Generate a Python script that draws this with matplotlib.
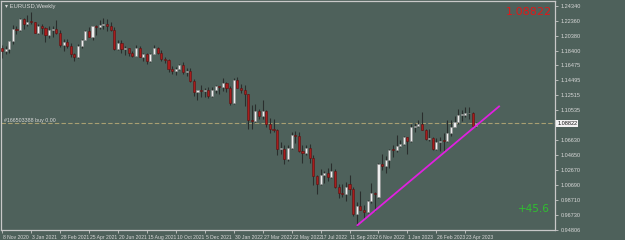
import numpy as np
import pandas as pd
import matplotlib
matplotlib.use("Agg")
import matplotlib.pyplot as plt

# Weekly EURUSD candles, first bar = week of 8 Nov 2020
start_week = "2020-11-08"
opens = [1.1876, 1.1834, 1.1856, 1.1962, 1.2122, 1.2114, 1.2256, 1.2185, 1.2225, 1.2218,
         1.2078, 1.2170, 1.2136, 1.2045, 1.2118, 1.2120, 1.2075, 1.1915, 1.1952, 1.1905,
         1.1795, 1.1763, 1.1900, 1.1982, 1.2097, 1.2020, 1.2165, 1.2145, 1.2180, 1.2190,
         1.2167, 1.2107, 1.1864, 1.1935, 1.1865, 1.1875, 1.1805, 1.1771, 1.1870, 1.1763,
         1.1795, 1.1698, 1.1795, 1.1880, 1.1815, 1.1725, 1.1718, 1.1595, 1.1573, 1.1600,
         1.1645, 1.1558, 1.1568, 1.1445, 1.1290, 1.1317, 1.1315, 1.1317, 1.1240, 1.1318,
         1.1370, 1.1359, 1.1411, 1.1344, 1.1146, 1.1455, 1.1350, 1.1320, 1.1270, 1.0930,
         1.0910, 1.1050, 1.0985, 1.1050, 1.0875, 1.0810, 1.0795, 1.0545, 1.0550, 1.0410,
         1.0565, 1.0735, 1.0720, 1.0520, 1.0495, 1.0555, 1.0425, 1.0185, 1.0085, 1.0210,
         1.0225, 1.0180, 1.0260, 1.0040, 0.9965, 0.9955, 1.0090, 1.0015, 0.9690, 0.9800,
         0.9740, 0.9720, 0.9860, 0.9965, 0.9920, 1.0355, 1.0325, 1.0400, 1.0535, 1.0530,
         1.0585, 1.0615, 1.0700, 1.0645, 1.0830, 1.0855, 1.0870, 1.0795, 1.0680, 1.0695,
         1.0545, 1.0635, 1.0665, 1.0655, 1.0760, 1.0840, 1.0900, 1.0990, 1.0995, 1.1015,
         1.1020, 1.0850]
highs = [1.1920, 1.1905, 1.1965, 1.2177, 1.2167, 1.2273, 1.2272, 1.2310, 1.2349, 1.2223,
         1.2190, 1.2185, 1.2150, 1.2169, 1.2169, 1.2243, 1.2113, 1.1990, 1.1990, 1.1945,
         1.1815, 1.1928, 1.1995, 1.2117, 1.2150, 1.2170, 1.2181, 1.2245, 1.2265, 1.2254,
         1.2218, 1.2150, 1.1975, 1.1975, 1.1895, 1.1880, 1.1830, 1.1909, 1.1900, 1.1805,
         1.1805, 1.1810, 1.1909, 1.1885, 1.1850, 1.1751, 1.1725, 1.1640, 1.1625, 1.1670,
         1.1692, 1.1616, 1.1610, 1.1465, 1.1320, 1.1383, 1.1355, 1.1360, 1.1360, 1.1386,
         1.1370, 1.1482, 1.1430, 1.1370, 1.1484, 1.1495, 1.1395, 1.1390, 1.1275, 1.1121,
         1.1137, 1.1070, 1.1185, 1.1055, 1.0950, 1.0935, 1.0815, 1.0640, 1.0595, 1.0600,
         1.0765, 1.0787, 1.0775, 1.0600, 1.0605, 1.0615, 1.0465, 1.0200, 1.0278, 1.0255,
         1.0295, 1.0368, 1.0280, 1.0090, 1.0080, 1.0110, 1.0198, 1.0050, 0.9855, 0.9999,
         0.9810, 0.9875, 1.0095, 0.9975, 1.0365, 1.0480, 1.0450, 1.0545, 1.0595, 1.0735,
         1.0660, 1.0715, 1.0710, 1.0875, 1.0885, 1.0930, 1.1035, 1.0805, 1.0805, 1.0705,
         1.0690, 1.0700, 1.0760, 1.0930, 1.0925, 1.0975, 1.1075, 1.1065, 1.1095, 1.1095,
         1.1030, 1.0905]
lows = [1.1745, 1.1800, 1.1810, 1.1925, 1.2059, 1.2104, 1.2130, 1.2165, 1.2195, 1.2075,
        1.2054, 1.2060, 1.1952, 1.2012, 1.2023, 1.2065, 1.1894, 1.1835, 1.1873, 1.1762,
        1.1704, 1.1740, 1.1870, 1.1980, 1.2017, 1.1986, 1.2052, 1.2130, 1.2130, 1.2104,
        1.2093, 1.1847, 1.1849, 1.1807, 1.1780, 1.1772, 1.1752, 1.1770, 1.1760, 1.1705,
        1.1665, 1.1690, 1.1790, 1.1800, 1.1700, 1.1680, 1.1565, 1.1530, 1.1525, 1.1585,
        1.1535, 1.1513, 1.1432, 1.1250, 1.1186, 1.1235, 1.1226, 1.1222, 1.1235, 1.1277,
        1.1272, 1.1315, 1.1300, 1.1121, 1.1140, 1.1375, 1.1280, 1.1106, 1.0805, 1.0806,
        1.0900, 1.0945, 1.0946, 1.0837, 1.0757, 1.0770, 1.0471, 1.0485, 1.0350, 1.0390,
        1.0550, 1.0630, 1.0505, 1.0360, 1.0470, 1.0365, 1.0070, 0.9952, 1.0075, 1.0095,
        1.0123, 1.0160, 1.0030, 0.9900, 0.9910, 0.9865, 0.9945, 0.9665, 0.9536, 0.9740,
        0.9630, 0.9705, 0.9830, 0.9730, 0.9895, 1.0270, 1.0225, 1.0290, 1.0440, 1.0510,
        1.0575, 1.0600, 1.0482, 1.0640, 1.0765, 1.0835, 1.0795, 1.0670, 1.0655, 1.0535,
        1.0533, 1.0525, 1.0515, 1.0640, 1.0715, 1.0835, 1.0875, 1.0910, 1.0965, 1.0940,
        1.0840, 1.0835]
closes = [1.1834, 1.1856, 1.1962, 1.2122, 1.2114, 1.2256, 1.2185, 1.2215, 1.2218, 1.2078,
          1.2170, 1.2136, 1.2045, 1.2118, 1.2120, 1.2075, 1.1915, 1.1952, 1.1905, 1.1795,
          1.1763, 1.1900, 1.1982, 1.2097, 1.2020, 1.2165, 1.2145, 1.2180, 1.2190, 1.2167,
          1.2107, 1.1864, 1.1935, 1.1865, 1.1875, 1.1805, 1.1771, 1.1870, 1.1763, 1.1795,
          1.1698, 1.1795, 1.1880, 1.1815, 1.1725, 1.1718, 1.1595, 1.1573, 1.1600, 1.1645,
          1.1558, 1.1568, 1.1445, 1.1290, 1.1317, 1.1315, 1.1317, 1.1240, 1.1318, 1.1370,
          1.1359, 1.1411, 1.1344, 1.1146, 1.1455, 1.1350, 1.1320, 1.1270, 1.0930, 1.0910,
          1.1050, 1.0985, 1.1050, 1.0875, 1.0810, 1.0795, 1.0545, 1.0550, 1.0410, 1.0565,
          1.0735, 1.0720, 1.0520, 1.0495, 1.0555, 1.0425, 1.0185, 1.0085, 1.0210, 1.0225,
          1.0180, 1.0260, 1.0040, 0.9965, 0.9955, 1.0040, 1.0015, 0.9690, 0.9800, 0.9740,
          0.9720, 0.9860, 0.9965, 0.9960, 1.0355, 1.0325, 1.0400, 1.0535, 1.0530, 1.0585,
          1.0615, 1.0700, 1.0645, 1.0830, 1.0855, 1.0870, 1.0795, 1.0680, 1.0695, 1.0545,
          1.0635, 1.0640, 1.0655, 1.0760, 1.0840, 1.0900, 1.0990, 1.0995, 1.1015, 1.1020,
          1.0850, 1.0882]

price_labels = ["1.24340", "1.22360", "1.20380", "1.18400", "1.16475", "1.14495", "1.12515",
                "1.10535", "1.06630", "1.04650", "1.02670", "1.00690", "0.98710", "0.96730",
                "0.94806"]
current_price = 1.08822
order_text = "#166503388 buy 0.00"
profit_text = "+45.6"
# trend line anchors (bar index, price)
trend_x = [98, 137.5]
trend_y = [0.9536, 1.1114]

bg = "#4e615b"
fg = "#d8d8d8"
small_font = ["Liberation Sans Narrow", "Liberation Sans", "DejaVu Sans"]

weeks = pd.date_range(start_week, periods=len(opens), freq="7D")
o = np.array(opens); h = np.array(highs); l = np.array(lows); c = np.array(closes)
x = np.arange(len(o))

fig = plt.figure(figsize=(6.25, 2.4), dpi=100, facecolor=bg)
ax = fig.add_axes([1 / 625, 10 / 240, 554 / 625, 229 / 240])
ax.set_facecolor(bg)

ppx = (1.24340 - 0.94806) / 224.5
ax.set_ylim(0.94806, 1.24340 + 4.5 * ppx)
ax.set_xlim(-0.28, 152.76)

up = c >= o
ax.vlines(x, l, h, color="#2a2e2d", lw=0.8, zorder=2)
body_h = np.maximum(np.abs(c - o), ppx * 0.8)
ax.bar(x[up], body_h[up], bottom=np.minimum(o, c)[up], width=0.58,
       color="#eeeeee", edgecolor="#8c8c8c", lw=0.4, zorder=3)
ax.bar(x[~up], body_h[~up], bottom=np.minimum(o, c)[~up], width=0.58,
       color="#a81c1c", edgecolor="#5a1212", lw=0.4, zorder=3)

# order line and trend line
ax.axhline(current_price, color="#a89f72", lw=0.8, ls=(0, (4, 2)), zorder=1)
ax.plot(trend_x, trend_y, color="#e020e0", lw=1.3, zorder=4, solid_capstyle="butt")

for s in ax.spines.values():
    s.set_color("#c8c8c8")
    s.set_linewidth(0.9)

# price axis on the right
ax.yaxis.tick_right()
ax.set_yticks([float(v) for v in price_labels])
ax.set_yticklabels(price_labels, family=small_font)
ax.tick_params(axis="y", colors="#c8c8c8", labelcolor=fg, labelsize=4, length=2.5,
               width=0.6, pad=1.5)

# date axis
tick_idx = list(range(0, len(o), 8))
ax.set_xticks(tick_idx)
ax.set_xticklabels([""] * len(tick_idx))
ax.tick_params(axis="x", colors="#c8c8c8", length=2.5, width=0.6)
for i in tick_idx:
    d = weeks[i]
    ax.text(i + 0.25, -0.022, f"{d.day} {d.strftime('%b %Y')}", transform=ax.get_xaxis_transform(),
            fontsize=3.6, color=fg, ha="left", va="top", family=small_font)

# current price box on axis
ax.text(1.004, current_price, "1.08822", transform=ax.get_yaxis_transform(), fontsize=4,
        color="#111111", ha="left", va="center", family=small_font,
        bbox=dict(boxstyle="square,pad=0.15", fc="#f2f2f2", ec="none"), zorder=6)

ax.text(0.008, 0.985, "\u25be EURUSD,Weekly", transform=ax.transAxes, fontsize=4.2,
        color=fg, ha="left", va="top", family=small_font)
ax.text(0.006, current_price + ppx * 0.8, order_text, transform=ax.get_yaxis_transform(),
        fontsize=3.8, color=fg, ha="left", va="bottom", family=small_font)
ax.text(0.994, 0.975, "1.08822", transform=ax.transAxes, fontsize=8, color="#e01818",
        ha="right", va="top")
ax.text(0.99, 0.07, profit_text, transform=ax.transAxes, fontsize=7.5, color="#2fc02f",
        ha="right", va="bottom")

fig.savefig("out.png", dpi=100, facecolor=bg)
